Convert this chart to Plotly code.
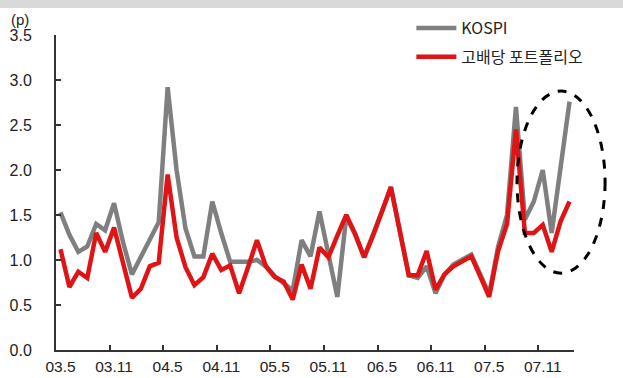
import plotly.graph_objects as go

# Monthly categories, 2003.05 .. 2008.02
months = []
for yy in range(3, 9):
    for mm in range(1, 13):
        if (yy == 3 and mm < 5) or (yy == 8 and mm > 2):
            continue
        months.append(f"{yy:02d}.{mm}")

tick_labels = ["03.5", "03.11", "04.5", "04.11", "05.5", "05.11", "06.5", "06.11", "07.5", "07.11"]

kospi = [1.53, 1.28, 1.09, 1.15, 1.40, 1.33, 1.63, 1.20, 0.84, 1.04, 1.24, 1.42, 2.92,
         2.00, 1.35, 1.04, 1.04, 1.65, 1.30, 0.98, 0.98, 0.98, 1.00, 0.93, 0.82, 0.74, 0.66, 1.22,
         1.04, 1.54, 1.05, 0.59, 1.48, 1.28, 1.03, 1.27, 1.54, 1.81, 1.32, 0.83, 0.80, 0.93,
         0.63, 0.84, 0.95, 1.01, 1.06, 0.84, 0.62, 1.15, 1.50, 2.70, 1.45, 1.65, 2.00, 1.30, 2.03, 2.76]

high_div = [1.12, 0.70, 0.87, 0.80, 1.30, 1.09, 1.36, 0.97, 0.58, 0.68, 0.93, 0.97, 1.95,
            1.25, 0.92, 0.72, 0.81, 1.07, 0.89, 0.94, 0.63, 0.92, 1.22, 0.93, 0.81, 0.76, 0.56, 0.95,
            0.68, 1.14, 1.03, 1.27, 1.50, 1.29, 1.03, 1.27, 1.54, 1.81, 1.32, 0.83, 0.83, 1.10,
            0.67, 0.84, 0.93, 0.99, 1.04, 0.82, 0.59, 1.10, 1.40, 2.45, 1.30, 1.30, 1.39, 1.09, 1.43, 1.65]

x = list(range(len(months)))
label_pos = [months.index(t) for t in tick_labels]
tick_pos = [p - 0.5 for p in label_pos[1:]]

font_main = "Liberation Sans, Arial, sans-serif"
font_kr = "Noto Sans CJK KR, sans-serif"

fig = go.Figure()
fig.add_trace(go.Scatter(
    x=x, y=kospi, mode="lines", name="KOSPI", legendgroup="a",
    line=dict(color="#7f7f7f", width=4.5),
    customdata=months,
))
fig.add_trace(go.Scatter(
    x=x, y=high_div, mode="lines", name="고배당 포트폴리오", legendgroup="b",
    line=dict(color="#e01414", width=4.5),
    customdata=months,
))

fig.update_layout(
    width=623, height=378,
    margin=dict(l=56, r=49, t=35, b=28, autoexpand=False),
    paper_bgcolor="white", plot_bgcolor="white",
    font=dict(family=font_main, size=16, color="#222"),
    showlegend=True,
    legend=dict(
        x=0.686, y=1.076, xanchor="left", yanchor="top",
        bgcolor="rgba(0,0,0,0)", borderwidth=0,
        font=dict(family=font_kr, size=16, color="#222"),
        tracegroupgap=5, itemwidth=40,
    ),
    xaxis=dict(
        range=[-0.5, len(months) - 0.5],
        tickmode="array", tickvals=label_pos, ticktext=tick_labels,
        ticks="", showgrid=False, zeroline=False, automargin=False,
        showline=True, linecolor="#333", linewidth=2,
        ticklabelstandoff=1,
        tickfont=dict(size=15.5),
        minor=dict(tickmode="array", tickvals=tick_pos, ticks="inside",
                   ticklen=5, tickcolor="#333", tickwidth=1.5, showgrid=False),
    ),
    yaxis=dict(
        range=[0, 3.5],
        tickmode="array", tickvals=[0, 0.5, 1, 1.5, 2, 2.5, 3, 3.5],
        tickformat=".1f",
        ticks="inside", ticklen=5, tickcolor="#333", tickwidth=1.5,
        showgrid=False, zeroline=False, automargin=False,
        showline=True, linecolor="#333", linewidth=2,
        ticklabelstandoff=19,
    ),
)

# Unit label
fig.add_annotation(text="(p)", xref="paper", yref="paper",
                   x=-0.07, y=1.05, xanchor="center", yanchor="middle",
                   showarrow=False, font=dict(size=15, color="#222"))

# Dashed ellipse highlighting the latest months
fig.add_shape(type="circle", xref="paper", yref="paper",
              x0=0.890, x1=1.060, y0=0.244, y1=0.822,
              line=dict(color="black", width=3, dash="dash"))

# Light gray band along the top edge
fig.add_shape(type="rect", xref="paper", yref="paper",
              x0=-0.12, x1=1.12, y0=1.086, y1=1.12,
              fillcolor="#d9d9d9", line=dict(width=0), layer="below")

fig.write_html("out.html")
